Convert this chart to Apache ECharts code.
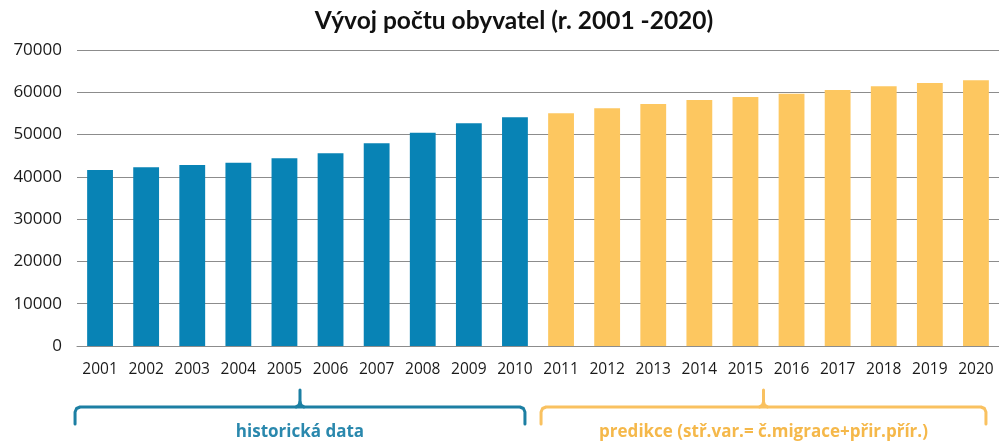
<!DOCTYPE html>
<html>
<head>
<meta charset="utf-8">
<script src="https://cdn.jsdelivr.net/npm/echarts@6/dist/echarts.min.js"></script>
<style>
html,body{margin:0;padding:0;background:#fff;}
#chart{width:999px;height:442px;}
</style>
</head>
<body>
<div id="chart"></div>
<script>
var years = ['2001','2002','2003','2004','2005','2006','2007','2008','2009','2010',
             '2011','2012','2013','2014','2015','2016','2017','2018','2019','2020'];
var historical = [41620,42260,42800,43350,44390,45570,47930,50450,52660,54080,
                  null,null,null,null,null,null,null,null,null,null];
var prediction = [null,null,null,null,null,null,null,null,null,null,
                  55030,56210,57230,58180,58890,59670,60540,61410,62200,62830];
var yTicks = [0,10000,20000,30000,40000,50000,60000,70000];
var titleText = 'Vývoj počtu obyvatel (r. 2001 -2020)';
var histLabel = 'historická data';
var predLabel = 'predikce (stř.var.= č.migrace+přir.přír.)';

var BLUE = '#0883b5', GOLD = '#fdc760', BRACE_BLUE = '#1c7fa3', BRACE_GOLD = '#f9c160';
var chart = echarts.init(document.getElementById('chart'));
chart.setOption({
  animation: false,
  title: {
    text: titleText, left: 509, top: 4, textAlign: 'center',
    textStyle: {fontFamily: 'Lato', fontWeight: 'bold', fontSize: 24.5, color: '#111'}
  },
  grid: {left: 77, width: 923, top: 50, bottom: 96, containLabel: false},
  xAxis: {
    type: 'category', data: years,
    axisLine: {show: true, lineStyle: {color: '#8c8c8c', width: 1}},
    axisTick: {show: false},
    axisLabel: {fontFamily: 'Open Sans', fontSize: 15.5, color: '#1a1a1a', margin: 16, interval: 0}
  },
  yAxis: {
    type: 'value', min: yTicks[0], max: yTicks[yTicks.length-1], interval: 10000,
    axisLine: {show: false}, axisTick: {show: false},
    splitLine: {lineStyle: {color: '#8c8c8c', width: 1}},
    axisLabel: {fontFamily: 'Open Sans', fontSize: 17, color: '#1a1a1a', margin: 15,
                formatter: function(v){ return String(v); }}
  },
  series: [
    {type: 'bar', data: historical, stack: 'a', barWidth: '56%', itemStyle: {color: BLUE}},
    {type: 'bar', data: prediction, stack: 'a', barWidth: '56%', itemStyle: {color: GOLD}}
  ]
});

function px(i){ return chart.convertToPixel({xAxisIndex:0}, years[i]); }
function brace(x1, x2, color){
  var y1 = 407, y2 = 424, y0 = 390, xm = (x1 + x2) / 2;
  var st = {fill: null, stroke: color, lineWidth: 3, lineCap: 'round', lineJoin: 'round'};
  return [
    {type: 'polyline', shape: {points: [[x1, y2], [x1, y1 + 5], [x1 + 1.5, y1 + 1.5], [x1 + 5, y1], [x2 - 5, y1], [x2 - 1.5, y1 + 1.5], [x2, y1 + 5], [x2, y2]]}, style: st},
    {type: 'polyline', shape: {points: [[xm - 4, y1], [xm - 1, y1 - 2], [xm, y1 - 5], [xm, y0]]}, style: st},
    {type: 'polyline', shape: {points: [[xm + 4, y1], [xm + 1, y1 - 2], [xm, y1 - 5]]}, style: st}
  ];
}
var bx1 = px(0) - 25, bx2 = px(9) + 10;
var gx1 = px(10) - 20, gx2 = px(19) + 10;
var g = [].concat(brace(bx1, bx2, BRACE_BLUE), brace(gx1, gx2, BRACE_GOLD));
g.push({type: 'text', x: (bx1 + bx2) / 2, y: 432,
     style: {text: histLabel, fill: '#2a88ad', font: 'bold 17px "Open Sans"', align: 'center', verticalAlign: 'middle'}});
g.push({type: 'text', x: (gx1 + gx2) / 2, y: 432,
     style: {text: predLabel, fill: '#f5b84a', font: 'bold 17px "Open Sans"', align: 'center', verticalAlign: 'middle'}});
chart.setOption({graphic: g});
</script>
</body>
</html>
